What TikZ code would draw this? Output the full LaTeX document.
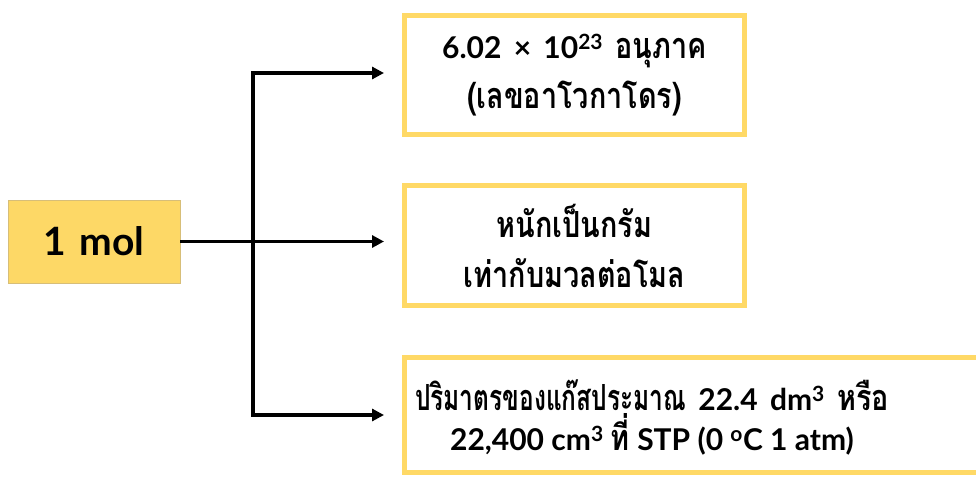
\documentclass[tikz,border=0pt]{standalone}
\usepackage{fontspec}
\setmainfont{Lato}[BoldFont={* Bold}]
\newfontfamily\thai[Script=Thai,Scale=1.2,FakeStretch=0.8]{Loma}
\newfontfamily\thaic[Script=Thai,Scale=1.2,FakeStretch=0.68]{Loma}
\usetikzlibrary{arrows.meta}
\definecolor{gold}{RGB}{253,216,102}
\definecolor{goldline}{RGB}{255,217,102}
\definecolor{molline}{RGB}{215,190,120}
\tikzset{
  arr/.style={line width=3.6pt,-{Triangle[length=12pt,width=12pt]}},
  outbox/.style={draw=goldline,line width=5pt,fill=white,inner sep=0pt},
  txt/.style={align=center,font=\bfseries\fontsize{30}{50}\selectfont},
}
\begin{document}
\begin{tikzpicture}[x=1pt,y=-1pt]
\clip (0,0) rectangle (976,476);
\fill[white] (0,0) rectangle (976,476);
% source box
\node[draw=molline,line width=0.8pt,fill=gold,minimum width=172pt,minimum height=83pt,
  font=\bfseries\fontsize{39}{40}\selectfont] (mol) at (94,241.5) {1\,\,mol};
% target boxes
\node[outbox,minimum width=340pt,minimum height=119pt] (b1) at (574.5,75) {};
\node[txt] (t1) at (574.5,75) {6.02 \,×\, 10\textsuperscript{23} \,{\thai อนุภาค}\\{\thai (เลขอาโวกาโดร)}};
\node[outbox,minimum width=340pt,minimum height=120pt] (b2) at (574.5,245.5) {};
\node[txt] (t2) at (574.5,245.5) {{\thai หนักเป็นกรัม}\\{\thai เท่ากับมวลต่อโมล}};
\node[outbox,minimum width=700pt,minimum height=115pt,anchor=west] (b3) at (401.5,415) {};
\node[txt,font=\bfseries\fontsize{30}{40}\selectfont] (t3) at (652,418) {{\thaic ปริมาตรของแก๊สประมาณ} \,22.4 \,dm\textsuperscript{3} \,{\thai หรือ}\\22,400 cm\textsuperscript{3} {\thai ที่} STP (0 \textsuperscript{o}C 1 atm)};
% connectors
\coordinate (j) at (253,241.5);
\coordinate (a1) at (384,73);
\coordinate (a2) at (384,241.5);
\coordinate (a3) at (384,415);
\draw[arr] (mol.east) -- (a2);
\draw[arr] (j) |- (a1);
\draw[arr] (j) |- (a3);
\end{tikzpicture}
\end{document}
